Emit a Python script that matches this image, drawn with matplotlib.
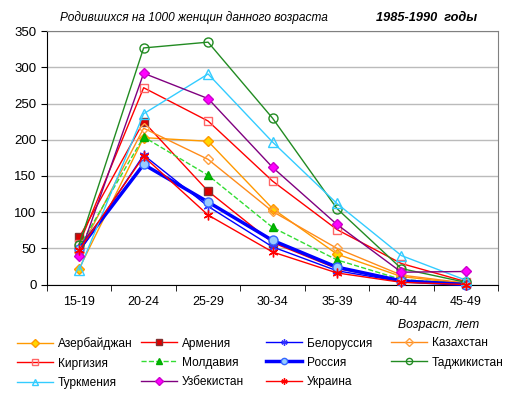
import matplotlib.pyplot as plt
from matplotlib.lines import Line2D

plt.rcParams['font.family'] = ['Liberation Sans', 'DejaVu Sans']

# Age groups and births per 1000 women, 1985-1990
ages = ['15-19', '20-24', '25-29', '30-34', '35-39', '40-44', '45-49']

azerbaijan = [22, 203, 198, 105, 42, 11, 1]
armenia = [65, 225, 129, 58, 22, 6, 1]
belorussia = [45, 179, 108, 52, 19, 4, 0]
kazakhstan = [45, 216, 173, 101, 50, 13, 2]
kirgizia = [56, 272, 226, 143, 76, 29, 4]
moldavia = [52, 204, 151, 79, 34, 7, 1]
russia = [49, 166, 114, 61, 24, 5, 0]
tajikistan = [55, 327, 335, 230, 105, 22, 3]
turkmenia = [20, 236, 291, 197, 112, 40, 6]
uzbekistan = [39, 292, 257, 162, 83, 17, 18]
ukraine = [48, 177, 96, 45, 16, 3, 0]

x = list(range(len(ages)))

fig = plt.figure(figsize=(5.15, 3.94), dpi=100)
ax = fig.add_axes([47/515, 1 - 284.5/394, 451/515, 253.2/394])

asterisk = (6, 2, 0)

# (name, values, line kwargs)
series = [
    ('Азербайджан', azerbaijan, dict(color='#FF9900', marker='D', ms=5, mfc='#FFD700', mec='#FF9900', lw=1)),
    ('Армения', armenia, dict(color='#FF0000', marker='s', ms=6, mfc='#DD0000', mec='#803333', lw=1)),
    ('Белоруссия', belorussia, dict(color='#0000FF', marker=asterisk, ms=7, mec='#3333FF', lw=1)),
    ('Казахстан', kazakhstan, dict(color='#FF8C1A', marker='D', ms=5, mfc='none', mec='#FFA040', lw=1)),
    ('Киргизия', kirgizia, dict(color='#FF0000', marker='s', ms=6, mfc='none', mec='#FF6666', lw=1)),
    ('Молдавия', moldavia, dict(color='#33DD33', ls='--', marker='^', ms=6, mfc='#00BB00', mec='#00AA00', lw=1)),
    ('Россия', russia, dict(color='#0000FF', marker='o', ms=6.5, mfc='#99CCFF', mec='#3366FF', lw=2.5)),
    ('Таджикистан', tajikistan, dict(color='#228B22', marker='o', ms=6.5, mfc='none', mec='#228B22', lw=1)),
    ('Туркмения', turkmenia, dict(color='#33CCFF', marker='^', ms=7, mfc='none', mec='#33CCFF', lw=1)),
    ('Узбекистан', uzbekistan, dict(color='#800080', marker='D', ms=5, mfc='#FF00FF', mec='#CC00CC', lw=1)),
    ('Украина', ukraine, dict(color='#FF0000', marker=asterisk, ms=7, mec='#FF0000', lw=1)),
]

for name, vals, kw in series:
    ax.plot(x, vals, label=name, clip_on=False, zorder=3, **kw)

ax.set_xlim(-0.5, len(ages) - 0.5)
ax.set_ylim(0, 350)
ax.set_yticks(range(0, 351, 50))
ax.set_xticks(x)
ax.set_xticklabels(ages)
ax.set_xticks([i - 0.5 for i in range(len(ages) + 1)], minor=True)
ax.tick_params(axis='x', which='major', length=0, pad=8, labelsize=9)
ax.tick_params(axis='x', which='minor', length=4, direction='out', color='black')
ax.tick_params(axis='y', length=4, direction='out', labelsize=9.5)
ax.grid(axis='y', color='#BBBBBB', lw=1)
ax.set_axisbelow(True)
for side in ('top', 'right'):
    ax.spines[side].set_color('#808080')
ax.spines['left'].set_color('black')
ax.spines['bottom'].set_color('black')

fig.text(60/515, 1 - 18/394, 'Родившихся на 1000 женщин данного возраста',
         fontsize=8.6, style='italic', va='center')
fig.text(376/515, 1 - 18/394, '1985-1990  годы', fontsize=9.2,
         style='italic', weight='bold', va='center')
fig.text(398/515, 1 - 325/394, 'Возраст, лет', fontsize=8.8, style='italic', va='center')

# legend, one block per column
col_x = [17, 141, 266, 391]
columns = [[0, 4, 8], [1, 5, 9], [2, 6, 10], [3, 7]]
for cx, idx in zip(col_x, columns):
    hs = []
    for i in idx:
        name, vals, kw = series[i]
        k = dict(kw)
        k['ms'] = 4.5
        hs.append(Line2D([], [], label=name, **k))
    fig.legend(handles=hs, loc='upper left', bbox_to_anchor=(cx/515, 1 - 337.5/394),
               frameon=False, fontsize=8.6, handlelength=3.0, handletextpad=0.4,
               labelspacing=0.6, borderpad=0, borderaxespad=0)

fig.savefig('out.png', dpi=100)
